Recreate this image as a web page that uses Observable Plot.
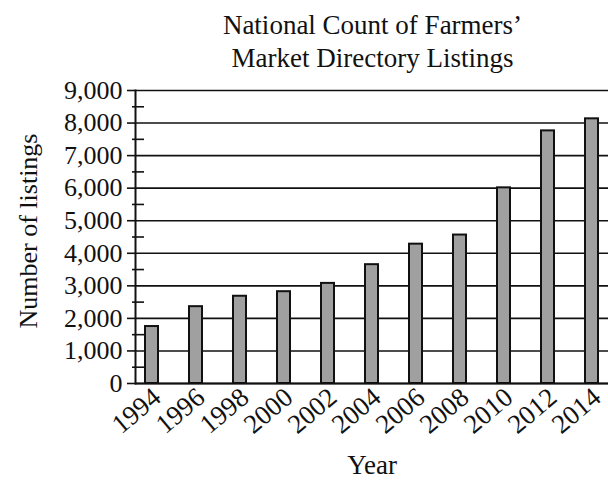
<!DOCTYPE html>
<html>
<head>
<meta charset="utf-8">
<script src="https://cdn.jsdelivr.net/npm/d3@7"></script>
<script src="https://cdn.jsdelivr.net/npm/@observablehq/plot@0.6"></script>
<style>
  html, body { margin: 0; padding: 0; background: #fff; }
  body { width: 608px; height: 480px; overflow: hidden; font-family: "Liberation Serif", serif; }
  #title { box-sizing: border-box; height: 75px; padding-top: 9px; padding-left: 137px; text-align: center; font-size: 27px; line-height: 33px; color: #111; }
  svg { display: block; }
</style>
</head>
<body>
<div id="title">National Count of Farmers’<br>Market Directory Listings</div>
<div id="chart"></div>
<script>
const years = ["1994","1996","1998","2000","2002","2004","2006","2008","2010","2012","2014"];
const listings = [1750, 2360, 2680, 2820, 3075, 3650, 4280, 4560, 6010, 7760, 8130];
const yTicks = [0,1000,2000,3000,4000,5000,6000,7000,8000,9000];
const yMinorTicks = [500,1500,2500,3500,4500,5500,6500,7500,8500];
const yLabel = "Number of listings";

const data = years.map((y, i) => ({year: y, value: listings[i]}));
const fmt = d3.format(",");

const chart = Plot.plot({
  width: 608,
  height: 405,
  marginLeft: 135,
  marginRight: 0,
  marginTop: 15,
  marginBottom: 97,
  style: {fontFamily: "Liberation Serif, serif", fontSize: "26px", color: "#111", background: "#fff", overflow: "visible"},
  x: {type: "band", domain: years, paddingInner: 0.7, paddingOuter: 0.225},
  y: {domain: [0, 9000]},
  marks: [
    Plot.gridY(yTicks, {stroke: "#111", strokeOpacity: 1, strokeWidth: 1.6}),
    Plot.barY(data, {x: "year", y: "value", fill: "#a0a0a0", stroke: "#111", strokeWidth: 2}),
    Plot.axisY(yTicks, {tickSize: 8, tickPadding: 5, tickFormat: fmt, fontSize: 26, label: null, strokeWidth: 1.6}),
    Plot.text([yLabel], {text: d => d, frameAnchor: "left", textAnchor: "middle", rotate: -90, dx: -107, dy: -6, fontSize: 26, fill: "#111"}),
    Plot.axisY(yMinorTicks, {tickSize: 12, dx: 9, text: null, label: null, strokeWidth: 1.6}),
    Plot.axisX({tickSize: 0, tickRotate: -40, tickPadding: 10, dx: 5, fontSize: 27, label: "Year", labelAnchor: "center", labelOffset: 90, labelArrow: "none"}),
    Plot.frame({anchor: "left", stroke: "#111", strokeWidth: 2}),
    Plot.ruleY([0], {stroke: "#111", strokeWidth: 2})
  ]
});
document.getElementById("chart").appendChild(chart);
</script>
</body>
</html>
